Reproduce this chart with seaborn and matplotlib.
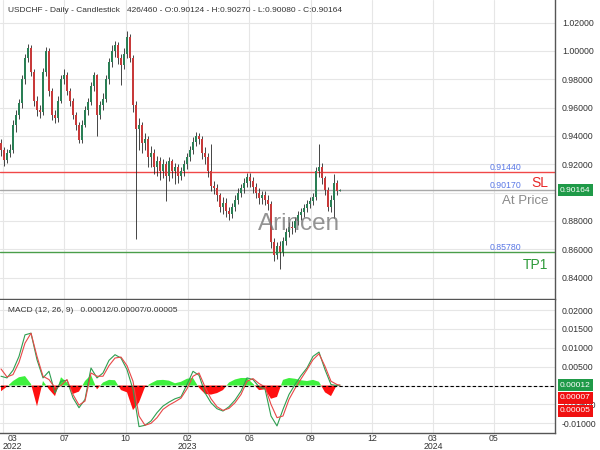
import matplotlib
matplotlib.use('Agg')
import matplotlib.pyplot as plt
import matplotlib.transforms as mtransforms
import numpy as np
import pandas as pd
import seaborn as sns

# ---------------- data ----------------
symbol_title = "USDCHF - Daily - Candlestick"
bar_counter = "426/460"
first_open = 0.935
closes = [0.930, 0.923, 0.928, 0.930, 0.948, 0.955, 0.963, 0.980, 0.995, 1.002,
          0.985, 0.965, 0.958, 0.957, 0.985, 1.000, 0.972, 0.955, 0.953, 0.965,
          0.980, 0.983, 0.972, 0.965, 0.955, 0.948, 0.937, 0.948, 0.958, 0.964,
          0.975, 0.983, 0.955, 0.962, 0.966, 0.980, 0.992, 1.000, 1.004, 0.995,
          0.990, 0.998, 1.010, 0.995, 0.962, 0.945, 0.948, 0.935, 0.938, 0.925,
          0.928, 0.918, 0.922, 0.915, 0.920, 0.912, 0.922, 0.915, 0.918, 0.912,
          0.915, 0.920, 0.925, 0.930, 0.936, 0.940, 0.938, 0.928, 0.925, 0.915,
          0.905, 0.903, 0.898, 0.890, 0.893, 0.887, 0.885, 0.890, 0.895, 0.900,
          0.903, 0.907, 0.911, 0.908, 0.904, 0.900, 0.896, 0.898, 0.895, 0.892,
          0.865, 0.856, 0.862, 0.858, 0.866, 0.872, 0.876, 0.875, 0.880, 0.884,
          0.886, 0.889, 0.892, 0.894, 0.897, 0.915, 0.918, 0.910, 0.902, 0.890,
          0.895, 0.907, 0.90124, 0.90164]
highs = [0.938, 0.932, 0.931, 0.934, 0.951, 0.958, 0.966, 0.983, 0.998, 1.005,
         1.004, 0.987, 0.968, 0.962, 0.988, 1.003, 1.002, 0.974, 0.958, 0.968,
         0.983, 0.987, 0.985, 0.974, 0.967, 0.957, 0.950, 0.951, 0.961, 0.967,
         0.978, 0.985, 0.984, 0.965, 0.970, 0.983, 0.995, 1.004, 1.007, 1.006,
         0.998, 1.002, 1.014, 1.012, 0.997, 0.965, 0.953, 0.950, 0.942, 0.940,
         0.933, 0.931, 0.926, 0.925, 0.924, 0.922, 0.925, 0.924, 0.921, 0.920,
         0.918, 0.923, 0.928, 0.933, 0.939, 0.943, 0.942, 0.940, 0.932, 0.928,
         0.934, 0.908, 0.906, 0.900, 0.897, 0.896, 0.890, 0.893, 0.898, 0.903,
         0.906, 0.910, 0.914, 0.914, 0.911, 0.907, 0.903, 0.901, 0.901, 0.898,
         0.894, 0.868, 0.865, 0.866, 0.869, 0.875, 0.879, 0.880, 0.883, 0.887,
         0.889, 0.892, 0.895, 0.897, 0.900, 0.918, 0.934, 0.921, 0.912, 0.904,
         0.898, 0.913, 0.909, 0.90270]
lows = [0.926, 0.919, 0.921, 0.925, 0.928, 0.943, 0.952, 0.960, 0.977, 0.992,
        0.982, 0.961, 0.954, 0.953, 0.955, 0.982, 0.968, 0.951, 0.949, 0.950,
        0.963, 0.977, 0.969, 0.961, 0.952, 0.944, 0.935, 0.935, 0.946, 0.955,
        0.962, 0.972, 0.940, 0.952, 0.958, 0.964, 0.977, 0.989, 0.996, 0.991,
        0.976, 0.987, 0.995, 0.992, 0.957, 0.8675, 0.930, 0.928, 0.930, 0.918,
        0.918, 0.913, 0.912, 0.909, 0.910, 0.894, 0.908, 0.910, 0.906, 0.907,
        0.909, 0.912, 0.917, 0.922, 0.927, 0.933, 0.934, 0.924, 0.920, 0.911,
        0.901, 0.899, 0.894, 0.886, 0.885, 0.883, 0.881, 0.882, 0.887, 0.892,
        0.897, 0.900, 0.904, 0.904, 0.900, 0.896, 0.892, 0.892, 0.891, 0.888,
        0.861, 0.852, 0.853, 0.846, 0.855, 0.863, 0.869, 0.871, 0.872, 0.877,
        0.881, 0.883, 0.886, 0.889, 0.891, 0.895, 0.911, 0.906, 0.898, 0.887,
        0.886, 0.882, 0.898, 0.90080]

macd_bars = list(range(0, 113, 2)) + [113]
macd_line = [0.00246, 0.00202, 0.00404, 0.00772, 0.01342, 0.01386, 0.00684, 0.00202, 0.00377, -0.00193,
             0.00114, 0.00140, -0.00325, -0.00588, -0.00368, 0.00465, 0.00202, 0.00333, 0.00667, 0.00816,
             0.00728, 0.00421, -0.00105, -0.01088, -0.01053, -0.00939, -0.00719, -0.00544, -0.00439, -0.00351,
             -0.00298, 0.00026, 0.00377, 0.00272, -0.00193, -0.00456, -0.00614, -0.00675, -0.00561, -0.00386,
             -0.00149, 0.00202, 0.00158, -0.00035, -0.00088, -0.00807, -0.01070, -0.00632, -0.00237, 0.00026,
             0.00263, 0.00465, 0.00772, 0.00886, 0.00421, 0.00026, 0.00000, 0.00012]
signal_line = [0.00439, 0.00228, 0.00289, 0.00614, 0.01123, 0.01386, 0.00772, 0.00246, 0.00158, -0.00061,
               0.00000, 0.00158, -0.00237, -0.00518, -0.00412, 0.00333, 0.00246, 0.00246, 0.00526, 0.00728,
               0.00754, 0.00526, 0.00114, -0.00807, -0.01053, -0.01000, -0.00851, -0.00631, -0.00518, -0.00430,
               -0.00333, -0.00088, 0.00246, 0.00333, -0.00035, -0.00351, -0.00561, -0.00658, -0.00605, -0.00456,
               -0.00237, 0.00114, 0.00184, 0.00053, -0.00035, -0.00500, -0.00851, -0.00807, -0.00368, -0.00079,
               0.00175, 0.00421, 0.00684, 0.00842, 0.00509, 0.00114, 0.00026, 0.00007]
macd_hist = [-0.0015, -0.0003, 0.0012, 0.0022, 0.0025, 0.0004, -0.0055, 0.0012, -0.0010, -0.0028,
             0.0022, 0.0008, -0.0022, -0.0016, 0.0012, 0.0028, -0.0010, 0.0008, 0.0015, 0.0014,
             -0.0012, -0.0018, -0.0065, -0.0045, -0.0004, 0.0006, 0.0014, 0.0015, 0.0013, 0.0006,
             0.0010, 0.0018, 0.0020, -0.0006, -0.0022, -0.0024, -0.0020, -0.0012, 0.0008, 0.0016,
             0.0020, 0.0020, 0.0005, -0.0012, -0.0010, -0.0035, -0.0030, 0.0015, 0.0020, 0.0018,
             0.0014, 0.0012, 0.0015, 0.0010, -0.0018, -0.0028, 0.0002, 0.00005]

price_ticks = [0.84, 0.86, 0.88, 0.90, 0.92, 0.94, 0.96, 0.98, 1.00, 1.02]
macd_ticks = [-0.01, -0.005, 0.0, 0.005, 0.01, 0.015, 0.02]
x_tick_pos = [0.5, 21.0, 41.5, 62.2, 82.7, 103.2, 123.7, 144.0, 164.3]
x_tick_labels = ['03\n2022', '07', '10', '02\n2023', '06', '09', '12', '03\n2024', '05']

sl_level = 0.9144
at_price_level = 0.9017
tp1_level = 0.8578

# ---------------- style ----------------
sns.set_style('white')
plt.rcParams['font.family'] = ['Liberation Sans', 'DejaVu Sans']

W, H = 600, 450
fig = plt.figure(figsize=(6, 4.5), dpi=100)
fig.patch.set_facecolor('white')
ax1 = fig.add_axes([0, 1 - 299 / H, 555 / W, 299 / H])
ax2 = fig.add_axes([0, 1 - 433 / H, 555 / W, 133 / H])

grid_c = '#e6e6e6'
axis_c = '#555555'
text_c = '#333333'

n = len(closes)
xs = np.arange(n)
opens = [first_open] + closes[:-1]
df = pd.DataFrame({'x': xs, 'open': opens, 'high': highs, 'low': lows, 'close': closes})
df['up'] = df['close'] >= df['open']

# candles
ax1.vlines(df['x'], df['low'], df['high'], color='#262626', lw=0.6, zorder=3)
body_col = np.where(df['up'], '#2a7f55', '#c83a3a')
heights = (df['close'] - df['open']).values
heights = np.where(np.abs(heights) < 0.0004, 0.0004, heights)
ax1.bar(df['x'], heights, bottom=df['open'], width=0.5, color=body_col,
        edgecolor='none', zorder=4)

# level lines
ax1.axhline(sl_level, color='#f04848', lw=1.0, zorder=2)
ax1.axhline(at_price_level, color='#a8a8a8', lw=1.0, zorder=2)
ax1.axhline(tp1_level, color='#4a9e4a', lw=1.0, zorder=2)

ax1.set_xlim(-1 / 3, 554 / 3)
ax1.set_ylim(0.8249, 1.036)
ax1.set_yticks(price_ticks)
ax1.set_yticklabels([f"{v:.5f}" for v in price_ticks])
ax1.set_xticks(x_tick_pos)
ax1.set_xticklabels([])

for ax in (ax1, ax2):
    ax.yaxis.tick_right()
    ax.tick_params(axis='y', length=0, pad=5, labelsize=6.3, labelcolor=text_c)
    ax.tick_params(axis='x', length=0, pad=0.5, labelsize=6.3, labelcolor=text_c)
    ax.grid(True, color=grid_c, lw=0.8)
    ax.set_axisbelow(True)
    ax.spines['left'].set_visible(False)
    ax.spines['top'].set_visible(False)
    ax.spines['right'].set_color(axis_c)
    ax.spines['bottom'].set_color(axis_c)
    ax.spines['right'].set_linewidth(1.0)
    ax.spines['bottom'].set_linewidth(1.0)

# MACD panel
mdf = pd.DataFrame({'x': macd_bars, 'macd': macd_line, 'signal': signal_line, 'hist': macd_hist})
hx = mdf['x'].values
hv = mdf['hist'].values
ax2.fill_between(hx, 0, hv, where=hv >= 0, interpolate=True, color='#3df03d', lw=0, zorder=2)
ax2.fill_between(hx, 0, hv, where=hv <= 0, interpolate=True, color='#ff1010', lw=0, zorder=2)
sns.lineplot(data=mdf, x='x', y='macd', ax=ax2, color='#2e9e50', lw=0.8, zorder=3)
sns.lineplot(data=mdf, x='x', y='signal', ax=ax2, color='#e84848', lw=0.8, zorder=3)
ax2.axhline(0, color='black', lw=0.8, ls=(0, (3, 2)), zorder=4)
ax2.set_xlim(-1 / 3, 554 / 3)
ax2.set_ylim(-0.01257, 0.02265)
ax2.set_yticks(macd_ticks)
ax2.set_yticklabels([f"{v:.5f}" for v in macd_ticks])
ax2.set_xticks(x_tick_pos)
ax2.set_xticklabels(x_tick_labels, linespacing=0.85)
ax2.set_xlabel('')
ax2.set_ylabel('')
lbls = ax2.get_xticklabels()
lbls[0].set_horizontalalignment('left')
lbls[0].set_multialignment('center')

# tick labels fully hidden behind value boxes in the reference
ax1.get_yticklabels()[price_ticks.index(0.90)].set_visible(False)
ax2.get_yticklabels()[macd_ticks.index(0.0)].set_visible(False)

# header texts
last = df.iloc[-1]
fig.text(8 / W, 1 - 10 / H,
         f"{symbol_title}   {bar_counter} - O:{last['open']:.5f} - H:{last['high']:.5f} - "
         f"L:{last['low']:.5f} - C:{last['close']:.5f}",
         fontsize=6.0, color=text_c, ha='left', va='center')
fig.text(8 / W, 1 - 311 / H,
         f"MACD (12, 26, 9)   {macd_line[-1]:.5f}/{signal_line[-1]:.5f}/{macd_hist[-1]:.5f}",
         fontsize=6.0, color=text_c, ha='left', va='center')

# level annotations
blue = '#5a78e6'
fig.text(521 / W, 1 - 167 / H, f"{sl_level:.5f}", fontsize=6.3, color=blue, ha='right', va='center')
fig.text(521 / W, 1 - 185 / H, f"{at_price_level:.5f}", fontsize=6.3, color=blue, ha='right', va='center')
fig.text(521 / W, 1 - 247 / H, f"{tp1_level:.5f}", fontsize=6.3, color=blue, ha='right', va='center')
fig.text(548 / W, 1 - 183 / H, "SL", fontsize=10, color='#e82828', ha='right', va='center')
fig.text(548 / W, 1 - 201 / H, "At Price", fontsize=9.5, color='#8a8a8a', ha='right', va='center')
fig.text(548 / W, 1 - 265 / H, "TP1", fontsize=10, color='#2e9a3a', ha='right', va='center')

# watermark
fig.text(299 / W, 1 - 224 / H, "Arincen", fontsize=17.5, color='#707070', alpha=0.75,
         ha='center', va='center', zorder=10)

# value boxes on axis
tr1 = mtransforms.blended_transform_factory(ax1.transAxes, ax1.transData)
ax1.text(1.0 + 5 / 555, closes[-1], f"{closes[-1]:.5f}", transform=tr1, fontsize=6, color='white',
         ha='left', va='center', clip_on=False, zorder=20,
         bbox=dict(boxstyle='square,pad=0.3', fc='#1f9a48', ec='none'))
tr2 = mtransforms.blended_transform_factory(ax2.transAxes, ax2.transData)
box_specs = [(macd_line[-1], '#1f9a48'), (signal_line[-1], '#f01010'), (macd_hist[-1], '#f01010')]
for k, (val, col) in enumerate(box_specs):
    ax2.annotate(f"{val:.5f}", xy=(1.0 + 5 / 555, macd_line[-1]), xycoords=tr2,
                 xytext=(0, -9.2 * k), textcoords='offset points', fontsize=6, color='white',
                 ha='left', va='center', annotation_clip=False, zorder=20,
                 bbox=dict(boxstyle='square,pad=0.3', fc=col, ec='none'))

fig.savefig('out.png', dpi=100, facecolor='white')
